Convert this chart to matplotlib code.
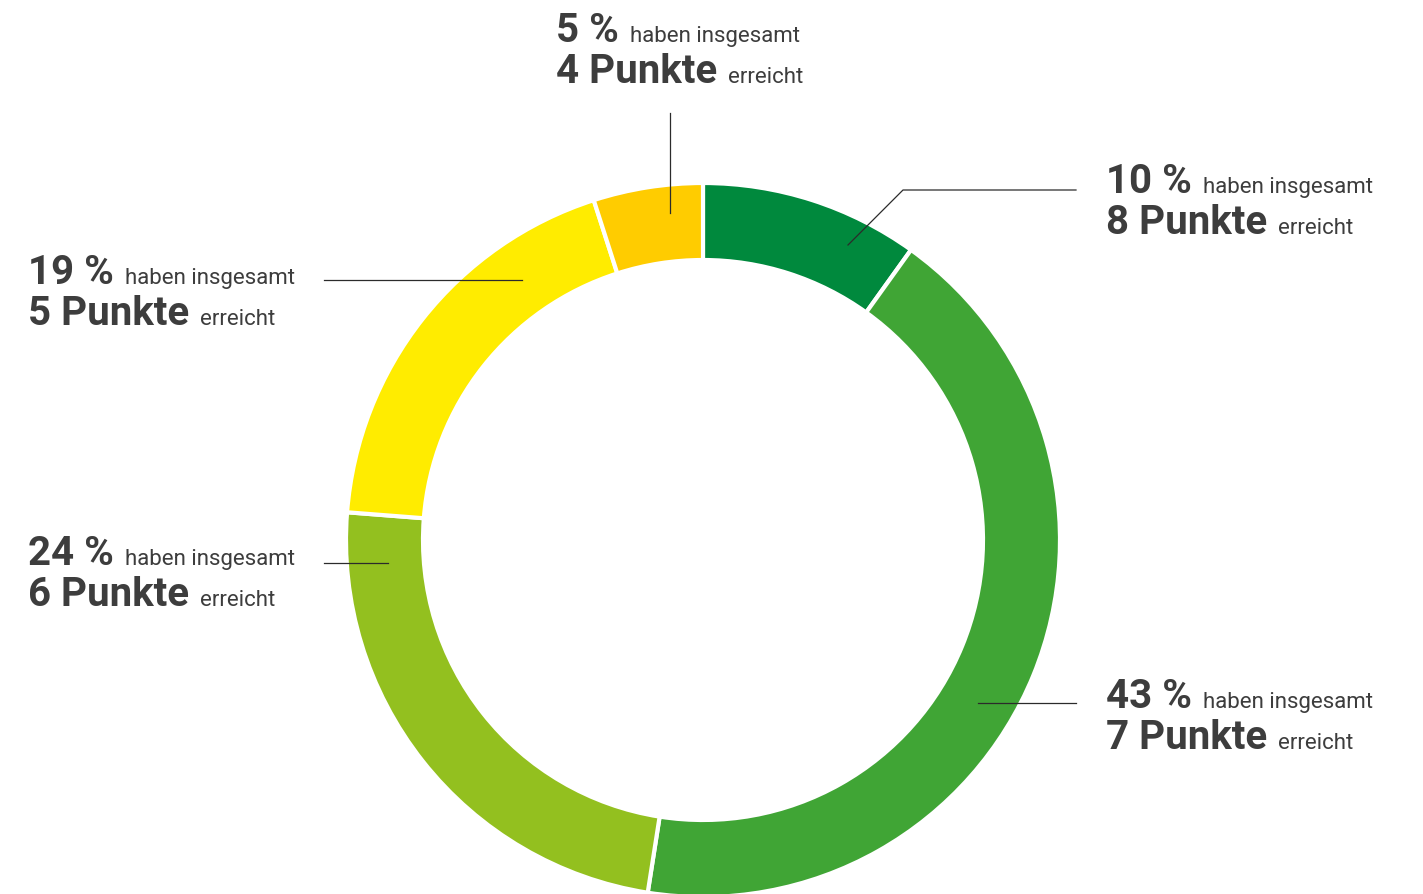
import matplotlib
matplotlib.use("Agg")
import matplotlib.pyplot as plt

# Verteilung der erreichten Gesamtpunkte (im Uhrzeigersinn ab 12 Uhr)
anteile = [10, 43, 24, 19, 5]
punkte = [8, 7, 6, 5, 4]
farben = ["#00893D", "#40A535", "#93C01F", "#FFEC00", "#FFCC00"]

W, H = 1423, 894
textfarbe = "#3d3d3d"

fig = plt.figure(figsize=(W / 100, H / 100), dpi=100)
ax = fig.add_axes([0, 0, 1, 1])

# Ring
ax.pie(anteile, colors=farben, startangle=90, counterclock=False,
       center=(703, H - 540), radius=357, frame=True,
       wedgeprops=dict(width=77, edgecolor="white", linewidth=3))
ax.set_xlim(0, W)
ax.set_ylim(0, H)
ax.set_aspect("equal")
ax.axis("off")

renderer = fig.canvas.get_renderer()


def y(py):
    return H - py


def beschriftung(x, base1, anteil, pkt):
    zeilen = [(f"{anteil} %", "haben insgesamt", base1),
              (f"{pkt} Punkte", "erreicht", base1 + 41)]
    for fett, normal, base in zeilen:
        t = ax.text(x, y(base), fett, fontfamily="Roboto", fontweight="bold",
                    fontsize=29, color=textfarbe, va="baseline", ha="left")
        bb = t.get_window_extent(renderer)
        ax.text(bb.x1 + 11, y(base), normal, fontfamily="Roboto",
                fontsize=16, color=textfarbe, va="baseline", ha="left")


# Beschriftungen
beschriftung(556, 42, anteile[4], punkte[4])
beschriftung(1106, 193, anteile[0], punkte[0])
beschriftung(1106, 708, anteile[1], punkte[1])
beschriftung(28, 284, anteile[3], punkte[3])
beschriftung(28, 565, anteile[2], punkte[2])

# Verbindungslinien
linie = dict(color="#2b2b2b", linewidth=0.9)
ax.plot([670, 670], [y(113), y(213)], **linie)
ax.plot([848, 903, 1076], [y(245), y(190), y(190)], **linie)
ax.plot([978, 1076], [y(703), y(703)], **linie)
ax.plot([324, 388], [y(563), y(563)], **linie)
ax.plot([324, 522], [y(280), y(280)], **linie)

fig.savefig("out.png", dpi=100)
